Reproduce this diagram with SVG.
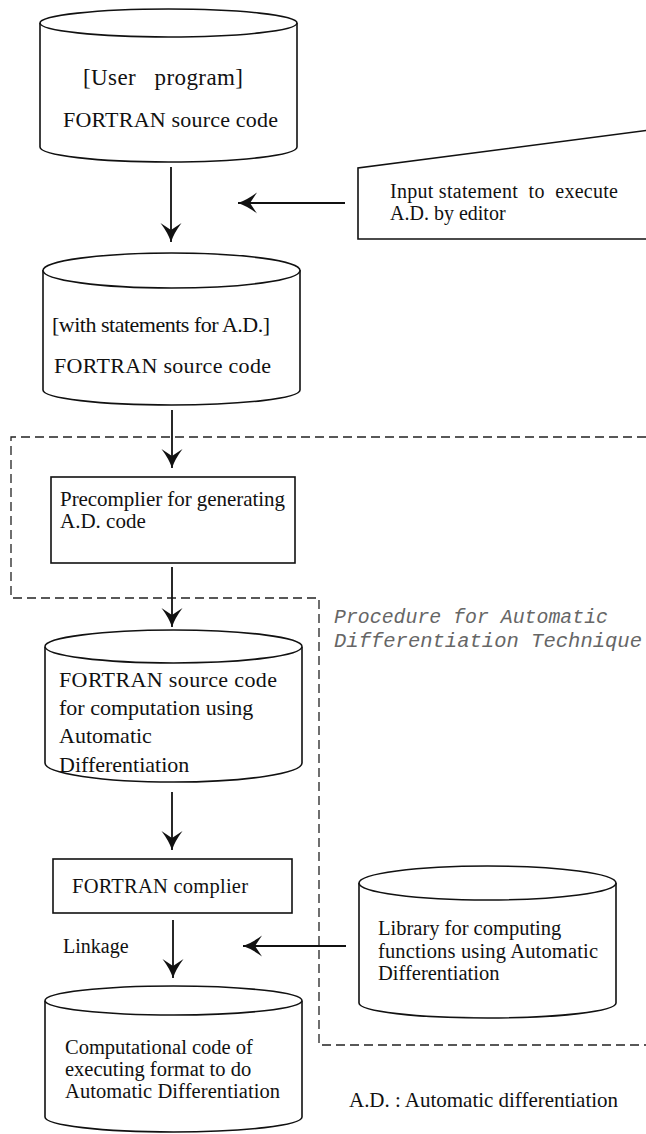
<svg xmlns="http://www.w3.org/2000/svg" width="646" height="1134" viewBox="0 0 646 1134">
<style>
.shape{fill:#fff;stroke:#111;stroke-width:1.6}
.t{font-family:"Liberation Serif","Times New Roman",serif;fill:#111;white-space:pre}
.conn{stroke:#111;stroke-width:1.8;fill:none}
.dash{stroke:#222;stroke-width:1.3;fill:none;stroke-dasharray:9 5}
.ital{font-family:"Liberation Mono","Courier New",monospace;font-style:italic;font-size:20px;fill:#666}
</style>
<defs>
<marker id="ah" markerUnits="userSpaceOnUse" markerWidth="24" markerHeight="24" viewBox="-20 -12 22 24" refX="0" refY="0" orient="auto">
<path d="M0,0 Q-9,-3 -19,-10.5 L-12,0 L-19,10.5 Q-9,3 0,0 Z" fill="#111"/>
</marker>
</defs>

<g id="boundary">
<path class="dash" d="M646,437 L11,437 L11,598 L319,598 L319,1045 L646,1045"/>
<text class="ital" x="334" y="623" textLength="274" lengthAdjust="spacingAndGlyphs">Procedure for Automatic</text>
<text class="ital" x="334" y="647" textLength="308" lengthAdjust="spacingAndGlyphs">Differentiation Technique</text>
</g>

<g id="connectors">
<line class="conn" x1="171" y1="167" x2="171" y2="242" marker-end="url(#ah)"/>
<line class="conn" x1="345" y1="203" x2="238" y2="203" marker-end="url(#ah)"/>
<line class="conn" x1="172" y1="410" x2="172" y2="468" marker-end="url(#ah)"/>
<line class="conn" x1="172" y1="567" x2="172" y2="627" marker-end="url(#ah)"/>
<line class="conn" x1="172" y1="792" x2="172" y2="850" marker-end="url(#ah)"/>
<line class="conn" x1="173" y1="920" x2="173" y2="978" marker-end="url(#ah)"/>
<line class="conn" x1="346" y1="946" x2="243" y2="946" marker-end="url(#ah)"/>
<text class="t" x="63" y="953" font-size="20">Linkage</text>
</g>

<g id="user-program">
<path class="shape" d="M40,23 L40,147 A128.5,15 0 0 0 297,147 L297,23"/>
<ellipse class="shape" cx="168.5" cy="23" rx="128.5" ry="14"/>
<text class="t" x="83" y="85" font-size="23" textLength="160">[User   program]</text>
<text class="t" x="63" y="127" font-size="22" textLength="215">FORTRAN source code</text>
</g>

<g id="editor-input">
<path class="shape" d="M650,130 L358,168 L358,239 L650,239"/>
<text class="t" x="390" y="198" font-size="20" textLength="228">Input statement  to  execute</text>
<text class="t" x="390" y="220" font-size="20">A.D. by editor</text>
</g>

<g id="source-with-statements">
<path class="shape" d="M43,270 L43,390 A128.5,15 0 0 0 300,390 L300,270"/>
<ellipse class="shape" cx="171.5" cy="270.5" rx="128.5" ry="17.5"/>
<text class="t" x="52" y="332" font-size="22" textLength="218">[with statements for A.D.]</text>
<text class="t" x="54" y="373" font-size="22" textLength="217">FORTRAN source code</text>
</g>

<g id="precompiler">
<rect class="shape" x="51" y="477" width="244" height="86"/>
<text class="t" x="60" y="506" font-size="21" textLength="225">Precomplier for generating</text>
<text class="t" x="60" y="528" font-size="21">A.D. code</text>
</g>

<g id="ad-source">
<path class="shape" d="M45,647 L45,763 A128.5,19 0 0 0 302,763 L302,647"/>
<ellipse class="shape" cx="173.5" cy="646.5" rx="128.5" ry="16.5"/>
<text class="t" x="59" y="687" font-size="22" textLength="218">FORTRAN source code</text>
<text class="t" x="59" y="715" font-size="22">for computation using</text>
<text class="t" x="59" y="743" font-size="22">Automatic</text>
<text class="t" x="59" y="772" font-size="22">Differentiation</text>
</g>

<g id="fortran-compiler">
<rect class="shape" x="53" y="859" width="239" height="54"/>
<text class="t" x="72" y="893" font-size="20.5" textLength="176">FORTRAN complier</text>
</g>

<g id="executable">
<path class="shape" d="M45,1001 L45,1117 A128.5,15 0 0 0 302,1117 L302,1001"/>
<ellipse class="shape" cx="173.5" cy="1000.5" rx="128.5" ry="14.5"/>
<text class="t" x="65" y="1054" font-size="20.5">Computational code of</text>
<text class="t" x="65" y="1076" font-size="20.5">executing format to do</text>
<text class="t" x="65" y="1098" font-size="20.5" textLength="215">Automatic Differentiation</text>
</g>

<g id="library">
<path class="shape" d="M359,883 L359,1003 A128.5,15 0 0 0 616,1003 L616,883"/>
<ellipse class="shape" cx="487.5" cy="883" rx="128.5" ry="17"/>
<text class="t" x="378" y="935" font-size="20.5">Library for computing</text>
<text class="t" x="378" y="958" font-size="20.5" textLength="220">functions using Automatic</text>
<text class="t" x="378" y="980" font-size="20.5">Differentiation</text>
</g>

<g id="legend">
<text class="t" x="349" y="1107" font-size="21" textLength="269">A.D. : Automatic differentiation</text>
</g>
</svg>
